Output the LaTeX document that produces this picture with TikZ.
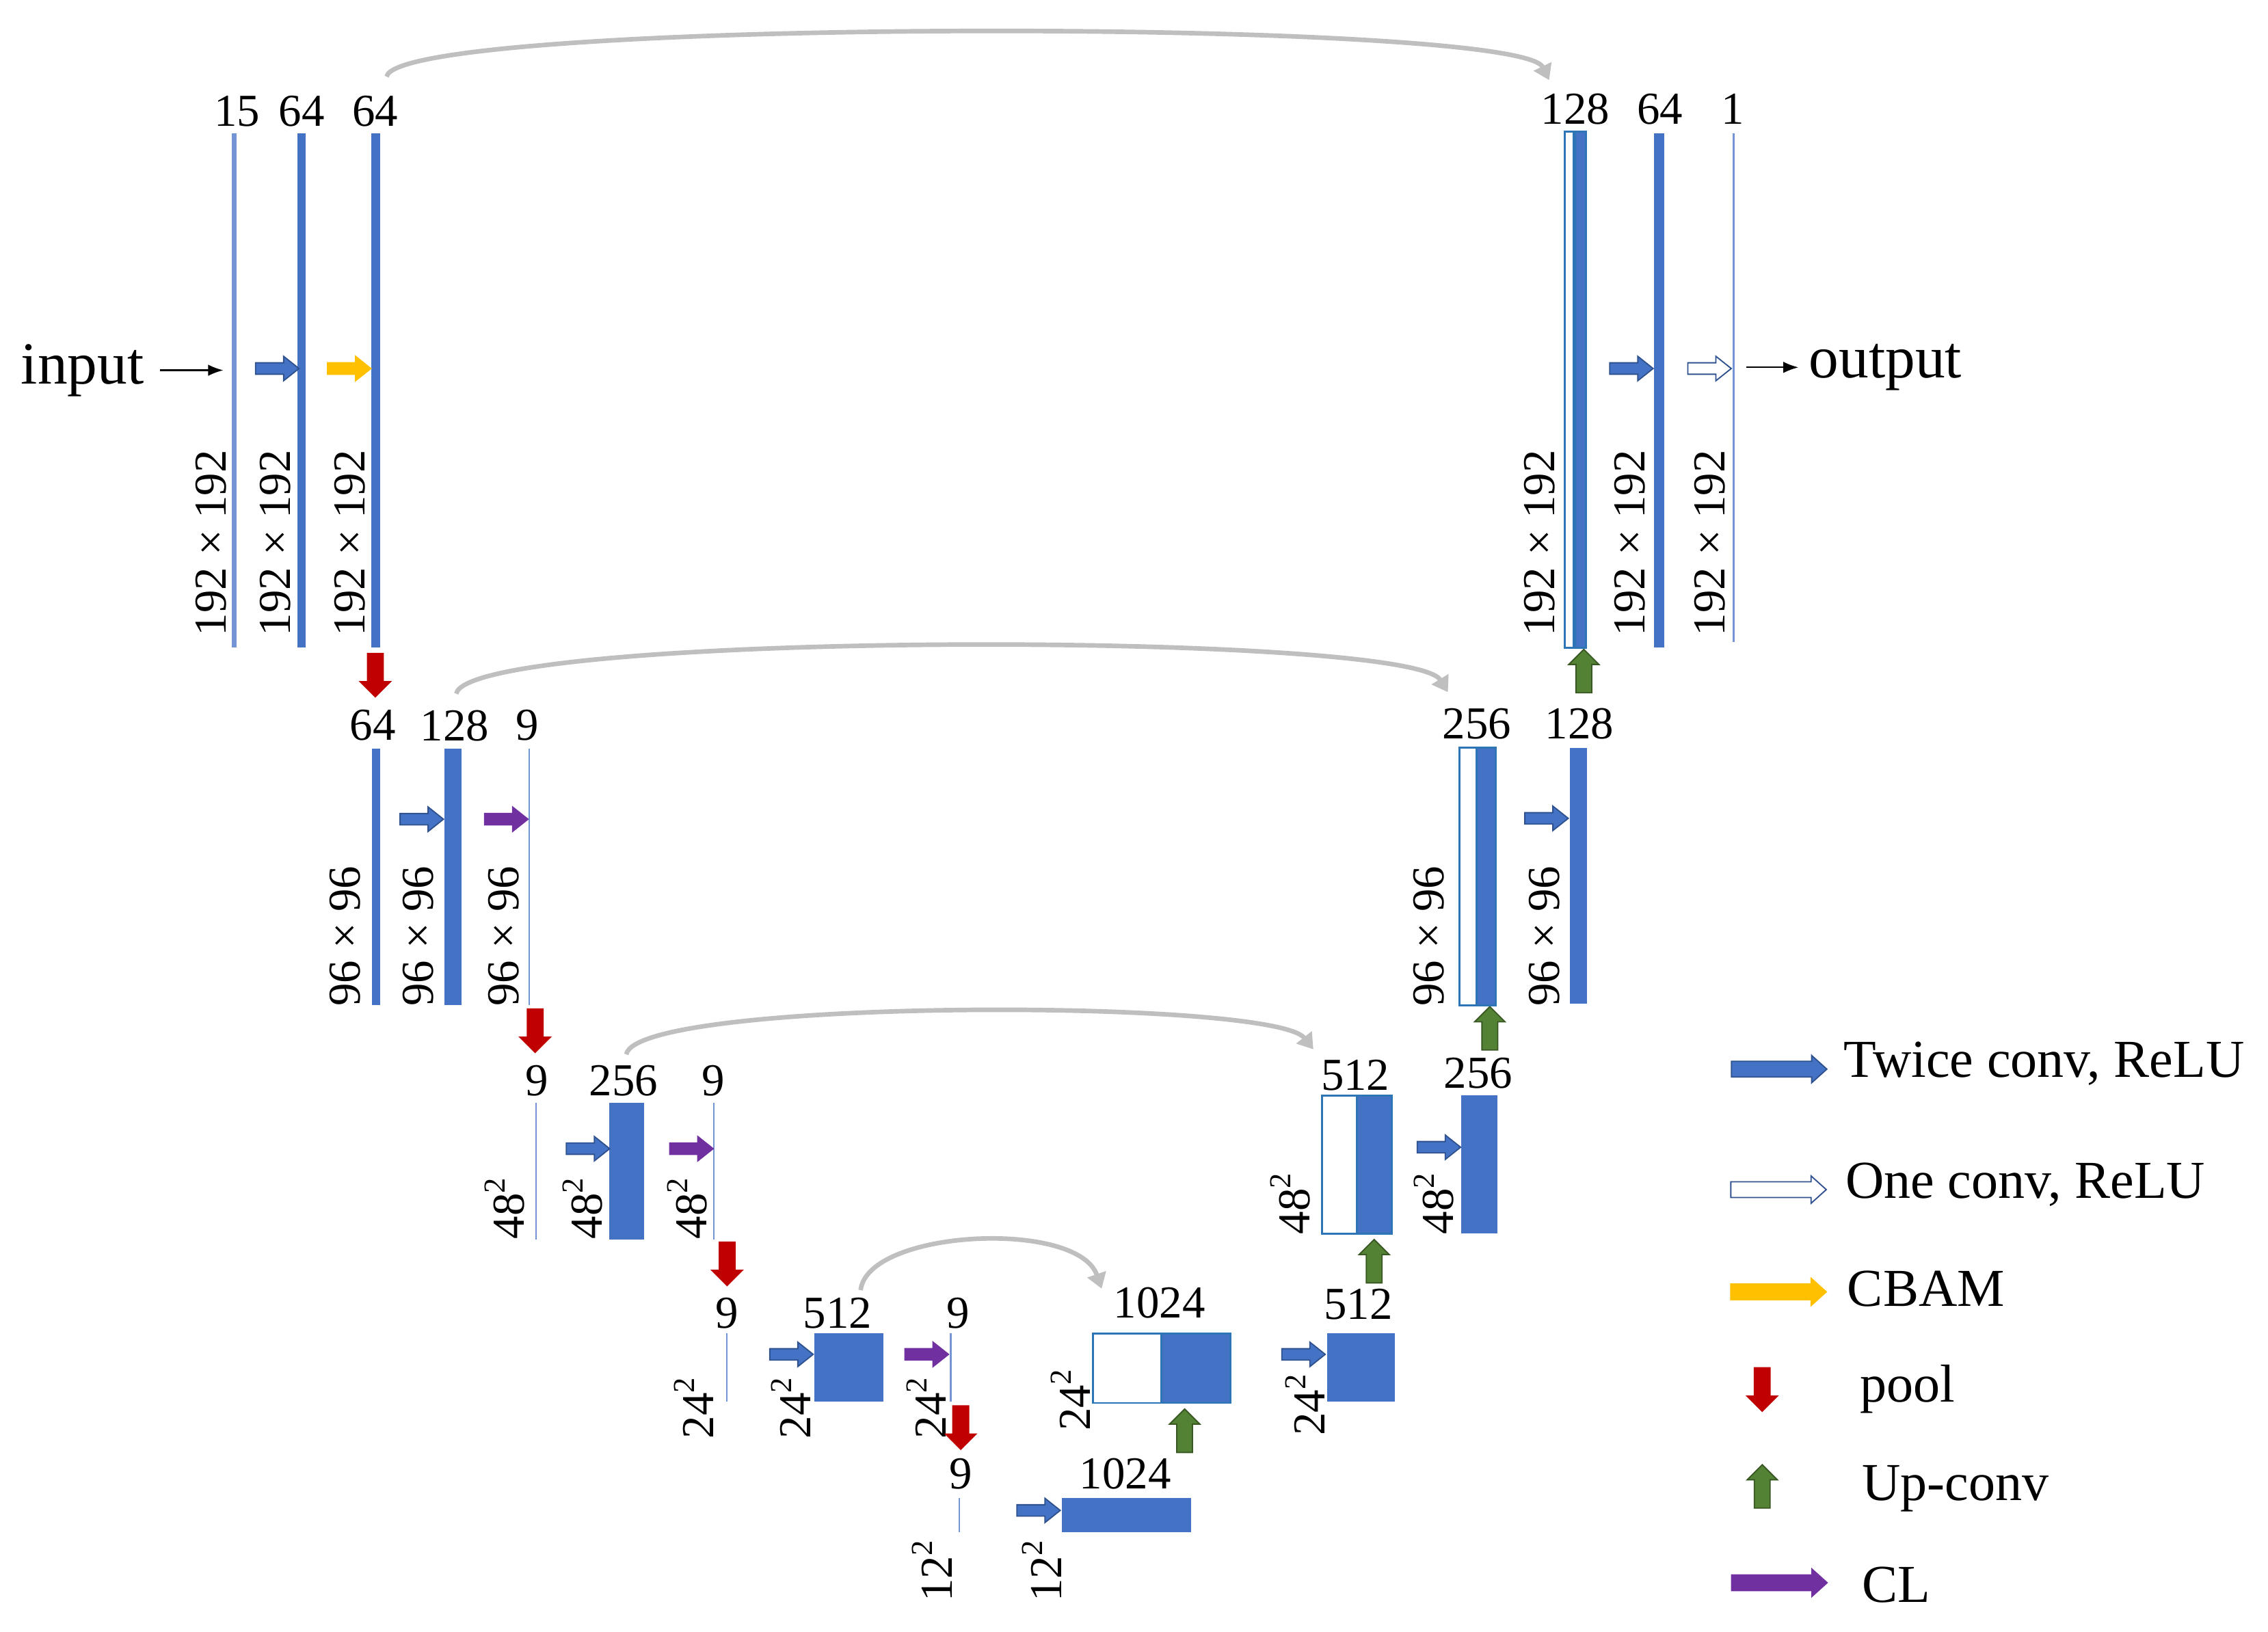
\documentclass[tikz,border=0pt]{standalone}
\usepackage{fontspec}
\setmainfont{Liberation Serif}
\usetikzlibrary{arrows.meta,shapes.arrows}
\newcommand{\pxu}{0.02cm}
\newcommand{\sqlbl}[1]{#1\raisebox{0.42em}{\fontsize{12}{12}\selectfont 2}}
\definecolor{fblue}{HTML}{4472C4}
\definecolor{fedge}{HTML}{2F528F}
\definecolor{cedge}{HTML}{2E75B6}
\definecolor{cbamc}{HTML}{FFC000}
\definecolor{clc}{HTML}{7030A0}
\definecolor{poolc}{HTML}{C00000}
\definecolor{upc}{HTML}{548235}
\definecolor{upedge}{HTML}{385723}
\definecolor{skipc}{HTML}{BFBFBF}

\begin{document}
\begin{tikzpicture}[x=0.02cm, y=-0.02cm,
  fmap/.style 2 args={fill=fblue, inner sep=0pt, outer sep=0pt, anchor=north west,
    minimum width=#1*\pxu, minimum height=#2*\pxu},
  thinmap/.style 2 args={fmap={#1}{#2}, fill=fblue!75},
  catmap/.style 2 args={fmap={#1}{#2}, draw=cedge, line width=0.8pt},
  hollowmap/.style 2 args={catmap={#1}{#2}, fill=white},
  chlbl/.style={inner sep=0pt, font=\fontsize{18}{20}\selectfont},
  sizelbl/.style={chlbl, rotate=90, anchor=west},
  harr/.style={single arrow, inner xsep=0pt, inner ysep=0.07cm, outer sep=0pt,
    minimum width=0pt, minimum height=0.6cm, single arrow head extend=0.09cm,
    single arrow tip angle=77, anchor=tip, line width=0.5pt},
  twice/.style={harr, fill=fblue, draw=fedge},
  onec/.style={harr, fill=white, draw=fedge},
  cbamarr/.style={harr, fill=cbamc, draw=cbamc},
  clarr/.style={harr, fill=clc, draw=clc},
  varr/.style={single arrow, inner xsep=0.1cm, inner ysep=0pt, outer sep=0pt,
    minimum width=0pt, minimum height=0.6cm, single arrow head extend=0.1cm,
    anchor=tip, line width=0.5pt},
  poolarr/.style={varr, shape border rotate=270, fill=poolc, draw=poolc},
  uparr/.style={varr, shape border rotate=90, fill=upc, draw=upedge},
  legarr/.style={inner ysep=0.1cm, minimum height=1.32cm, single arrow head extend=0.08cm,
    single arrow tip angle=84, anchor=tail},
  legtxt/.style={inner sep=0pt, anchor=base west, font=\fontsize{21}{24}\selectfont},
  iotxt/.style={inner sep=0pt, font=\fontsize{23.5}{26}\selectfont},
  link/.style={-{Latex[length=6pt,width=4.5pt]}, line width=0.6pt},
  skiparc/.style={draw=skipc, line width=1.8pt, -{Triangle[width=7.5pt,length=6pt]}}
]
\useasboundingbox (0,0) rectangle (1568,1128);

% Encoder, level 1 (192 x 192)
\node[thinmap={3.1}{355.7}] (f1a) at (160.4,92) {};
\node[fmap={5.8}{355.7}] (f1b) at (205.7,92) {};
\node[fmap={6}{355.7}] (f1c) at (256.9,92) {};
\node[chlbl] (n1a) at (164,77) {15};
\node[chlbl] (n1b) at (208.6,77) {64};
\node[chlbl] (n1c) at (259.3,77) {64};
\node[sizelbl] (s1a) at (146,440) {192 × 192};
\node[sizelbl] (s1b) at (190.5,440) {192 × 192};
\node[sizelbl] (s1c) at (242,440) {192 × 192};
\node[twice] (tw1) at (206.7,254.8) {};
\node[cbamarr] (cb1) at (256.4,254.8) {};
\node[poolarr] (pl1) at (259.5,481.8) {};

% Input
\node[iotxt] (in) at (57,256) {input};
\draw[link, shorten <=0.22cm, shorten >=0.12cm] (in.east) -- (in.east -| f1a.west);

% Encoder, level 2 (96 x 96)
\node[fmap={5.6}{177.4}] (f2a) at (257.2,517.6) {};
\node[fmap={11.6}{177.4}] (f2b) at (307.3,517.6) {};
\node[thinmap={1}{177.4}] (f2c) at (365.4,517.6) {};
\node[chlbl] (n2a) at (257.8,501.6) {64};
\node[chlbl] (n2b) at (314.4,501.6) {128};
\node[chlbl] (n2c) at (364.6,501.6) {9};
\node[sizelbl] (s2a) at (238.5,696) {96 × 96};
\node[sizelbl] (s2b) at (289.2,696) {96 × 96};
\node[sizelbl] (s2c) at (348.3,696) {96 × 96};
\node[twice] (tw2) at (306.6,566.4) {};
\node[clarr] (cl2) at (365,566.4) {};
\node[poolarr] (pl2) at (370,727.6) {};

% Encoder, level 3 (48 x 48)
\node[thinmap={1}{94.5}] (f3a) at (370.3,762.5) {};
\node[fmap={24.4}{94.5}] (f3b) at (421.1,762.5) {};
\node[thinmap={1}{94.5}] (f3c) at (493,762.5) {};
\node[chlbl] (n3a) at (371,747) {9};
\node[chlbl] (n3b) at (431,747) {256};
\node[chlbl] (n3c) at (493,747) {9};
\node[sizelbl] (s3a) at (349,857) {\sqlbl{48}};
\node[sizelbl] (s3b) at (402.6,857) {\sqlbl{48}};
\node[sizelbl] (s3c) at (475,857) {\sqlbl{48}};
\node[twice] (tw3) at (421.5,794.2) {};
\node[clarr] (cl3) at (493,794.2) {};
\node[poolarr] (pl3) at (502.7,888.8) {};

% Encoder, level 4 (24 x 24)
\node[thinmap={1}{47}] (f4a) at (502,922) {};
\node[fmap={47.7}{47}] (f4b) at (562.9,922) {};
\node[thinmap={1}{47}] (f4c) at (656.8,922) {};
\node[chlbl] (n4a) at (502.5,908) {9};
\node[chlbl] (n4b) at (579,908) {512};
\node[chlbl] (n4c) at (662.3,908) {9};
\node[sizelbl] (s4a) at (479.7,995) {\sqlbl{24}};
\node[sizelbl] (s4b) at (546.6,995) {\sqlbl{24}};
\node[sizelbl] (s4c) at (640.6,995) {\sqlbl{24}};
\node[twice] (tw4) at (562.2,936.4) {};
\node[clarr] (cl4) at (655.7,936.4) {};
\node[poolarr] (pl4) at (664.2,1002) {};

% Bottom (12 x 12)
\node[thinmap={1}{23.7}] (f5a) at (662.9,1035.6) {};
\node[fmap={89.3}{23.7}] (f5b) at (734,1035.6) {};
\node[chlbl] (n5a) at (664.2,1019) {9};
\node[chlbl] (n5b) at (778,1019) {1024};
\node[sizelbl] (s5a) at (644.4,1107.7) {\sqlbl{12}};
\node[sizelbl] (s5b) at (720.3,1107.7) {\sqlbl{12}};
\node[twice] (tw5) at (733,1044.3) {};
\node[uparr] (up1) at (819,974.2) {};

% Decoder, level 4
\node[hollowmap={47}{48}] (c4) at (755.7,922) {};
\node[catmap={47.8}{48}] (f4d) at (802.7,922) {};
\node[fmap={47}{47}] (f4e) at (917.4,922) {};
\node[chlbl] (n4d) at (801.6,901) {1024};
\node[chlbl] (n4e) at (939,902) {512};
\node[sizelbl] (s4d) at (740,989.5) {\sqlbl{24}};
\node[sizelbl] (s4e) at (902.2,993) {\sqlbl{24}};
\node[twice] (tw6) at (916.2,936.4) {};
\node[uparr] (up2) at (950,857) {};

% Decoder, level 3
\node[hollowmap={24.1}{95.7}] (c3) at (913.9,757.3) {};
\node[catmap={24.4}{95.7}] (f3d) at (938,757.3) {};
\node[fmap={25.3}{95.7}] (f3e) at (1010,757.3) {};
\node[chlbl] (n3d) at (937,743.5) {512};
\node[chlbl] (n3e) at (1021.9,742) {256};
\node[sizelbl] (s3d) at (891.9,853.8) {\sqlbl{48}};
\node[sizelbl] (s3e) at (991.2,853.8) {\sqlbl{48}};
\node[twice] (tw7) at (1009.8,793.2) {};
\node[uparr] (up3) at (1030,696) {};

% Decoder, level 2
\node[hollowmap={12}{178}] (c2) at (1009,517) {};
\node[catmap={13}{178}] (f2d) at (1021,517) {};
\node[fmap={11.6}{177}] (f2e) at (1085.4,517) {};
\node[chlbl] (n2d) at (1021,500.6) {256};
\node[chlbl] (n2e) at (1092,500.6) {128};
\node[sizelbl] (s2d) at (988,696) {96 × 96};
\node[sizelbl] (s2e) at (1067.6,696) {96 × 96};
\node[twice] (tw8) at (1084.2,565.8) {};
\node[uparr] (up4) at (1095,449) {};

% Decoder, level 1
\node[hollowmap={6}{356.7}] (c1) at (1081.8,91) {};
\node[catmap={7.6}{356.7}] (f1d) at (1088.8,91) {};
\node[fmap={7}{355.7}] (f1e) at (1143.7,92) {};
\node[thinmap={1.6}{352}] (f1f) at (1197.7,92) {};
\node[chlbl] (n1d) at (1089,75.4) {128};
\node[chlbl] (n1e) at (1147.5,75.4) {64};
\node[chlbl] (n1f) at (1198,75.4) {1};
\node[sizelbl] (s1d) at (1064.6,440) {192 × 192};
\node[sizelbl] (s1e) at (1127,440) {192 × 192};
\node[sizelbl] (s1f) at (1182.2,440) {192 × 192};
\node[twice] (tw9) at (1142.9,254.8) {};
\node[onec] (on1) at (1196.9,254.8) {};

% Output
\node[iotxt] (out) at (1303.5,254) {output};
\draw[link, shorten <=0.16cm, shorten >=0.14cm] (out.west -| f1f.east) -- (out.west);

% Skip connections
\draw[skiparc] ([shift={(8,-24)}]n1c.center) .. controls (275,12) and (1050,12) .. ([shift={(-18,-20)}]n1d.center);
\draw[skiparc] ([shift={(1,-22)}]n2b.center) .. controls (325,436) and (975,436) .. ([shift={(-20,-22)}]n2d.center);
\draw[skiparc] ([shift={(2,-18)}]n3b.center) .. controls (440,690) and (880,690) .. ([shift={(-29,-18)}]n3d.center);
\draw[skiparc] ([shift={(16,-16)}]n4b.center) .. controls (600,850) and (745,843) .. ([shift={(-40,-10)}]n4d.center);

% Legend
\node[twice, legarr] (lg1) at (1197,739.2) {};
\node[onec, legarr] (lg2) at (1196.6,822.5) {};
\node[cbamarr, legarr] (lg3) at (1196.6,893.2) {};
\node[poolarr] (lg4) at (1218.3,975.7) {};
\node[uparr] (lg5) at (1218.3,1012.7) {};
\node[clarr, legarr] (lg6) at (1197.2,1094.3) {};
\node[legtxt] (t1) at (1274.5,744.8) {Twice conv, ReLU};
\node[legtxt] (t2) at (1275.6,828.2) {One conv, ReLU};
\node[legtxt] (t3) at (1276.9,903) {CBAM};
\node[legtxt] (t4) at (1285.5,969.4) {pool};
\node[legtxt] (t5) at (1286.9,1037.3) {Up-conv};
\node[legtxt] (t6) at (1287,1107.9) {CL};
\end{tikzpicture}
\end{document}
